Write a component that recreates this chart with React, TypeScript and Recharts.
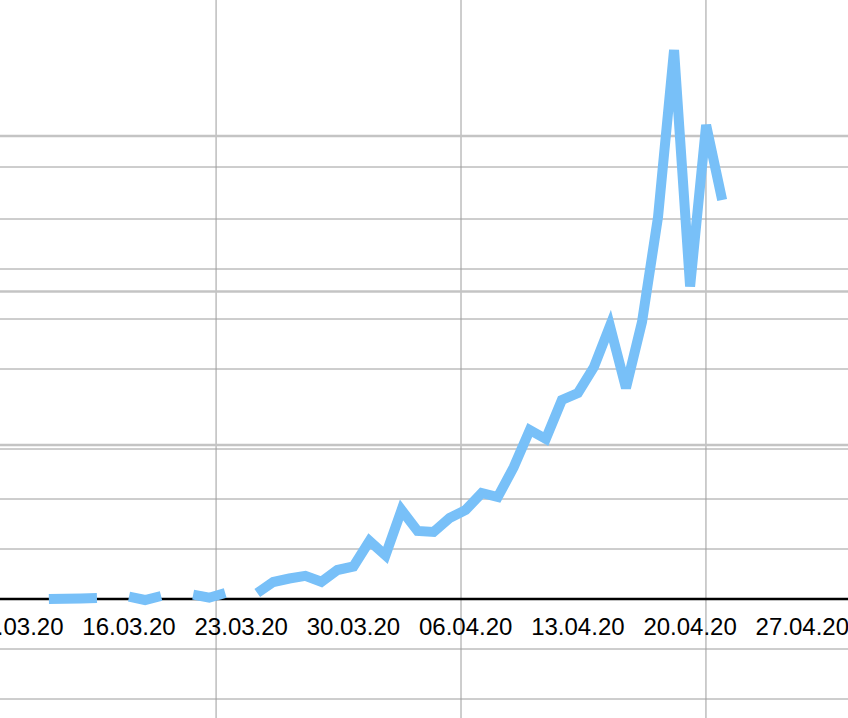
import React from 'react';
import { ComposedChart, Line, XAxis, YAxis, CartesianGrid, ReferenceLine } from 'recharts';

// daily values, 09.03.20 is day 0; null = no report that day
const dates = [
  '11.03', '12.03', '13.03', '14.03', '15.03', '16.03', '17.03', '18.03', '19.03', '20.03',
  '21.03', '22.03', '23.03', '24.03', '25.03', '26.03', '27.03', '28.03', '29.03', '30.03',
  '31.03', '01.04', '02.04', '03.04', '04.04', '05.04', '06.04', '07.04', '08.04', '09.04',
  '10.04', '11.04', '12.04', '13.04', '14.04', '15.04', '16.04', '17.04', '18.04', '19.04',
  '20.04', '21.04', '22.04',
];
const values = [
  0, 3, 6, 10, null, 23, -10, 30, null, 43,
  13, 60, null, 60, 170, 205, 231, 172, 290, 325,
  580, 436, 890, 680, 670, 810, 890, 1060, 1020, 1320,
  1690, 1600, 1990, 2060, 2320, 2730, 2110, 2770, 3820, 5490,
  3125, 4740, 3990,
];

const tickDates = ['09.03.20', '16.03.20', '23.03.20', '30.03.20', '06.04.20', '13.04.20', '20.04.20', '27.04.20'];

// grid lines (x in days from 09.03, y in value units)
const verticalGrid = [12.43, 27.71, 42.99];
const minorGrid = [-1000, -500, 500, 1000, 1500, 2300, 2800, 3300, 3800, 4320];
const majorGrid = [1540, 3075, 4630];

const W = 848;
const H = 718;
const X_MIN = -1.048;
const X_MAX = 51.85;
const Y_MIN = -1190;
const Y_MAX = 5990;

const START = Date.UTC(2020, 2, 9);
const dayOf = (ddmm: string) => {
  const [d, m] = ddmm.split('.').map(Number);
  return Math.round((Date.UTC(2020, m - 1, d) - START) / 86400000);
};

const data = dates.map((d, i) => ({ day: dayOf(d), value: values[i] }));
const ticks = tickDates.map((t) => dayOf(t.slice(0, 5)));
const tickLabel = (day: number) => tickDates[ticks.indexOf(day)] ?? '';

const zeroY = (H * Y_MAX) / (Y_MAX - Y_MIN);

const DateTick = (props: any) => {
  const { x, payload } = props;
  return (
    <text
      x={x}
      y={zeroY + 36}
      textAnchor="middle"
      fill="#000"
      fontSize={24}
      fontFamily="'Liberation Sans', Arial, sans-serif"
    >
      {tickLabel(payload.value)}
    </text>
  );
};

export default function App() {
  return (
    <div style={{ position: 'absolute', left: 0, top: 0, width: W, height: H, overflow: 'hidden', background: '#fff' }}>
      {/* 1px extra height holds the x axis so the plot fills the whole frame */}
      <ComposedChart width={W} height={H + 1} data={data} margin={{ top: 0, right: 0, bottom: 0, left: 0 }}>
        <CartesianGrid
          horizontal={true}
          vertical={true}
          horizontalValues={minorGrid}
          verticalValues={verticalGrid}
          stroke="#9c9c9c"
          strokeWidth={1}
        />
        <CartesianGrid
          horizontal={true}
          vertical={false}
          horizontalValues={majorGrid}
          stroke="#c4c4c4"
          strokeWidth={2.5}
        />
        <XAxis
          dataKey="day"
          type="number"
          domain={[X_MIN, X_MAX]}
          allowDataOverflow
          ticks={ticks}
          interval={0}
          height={1}
          axisLine={false}
          tickLine={false}
          tick={DateTick}
        />
        <YAxis hide type="number" domain={[Y_MIN, Y_MAX]} allowDataOverflow width={0} />
        <ReferenceLine y={0} stroke="#000" strokeWidth={2.5} />
        <Line
          type="linear"
          dataKey="value"
          stroke="#78c0f8"
          strokeWidth={10}
          dot={false}
          activeDot={false}
          connectNulls={false}
          isAnimationActive={false}
        />
      </ComposedChart>
    </div>
  );
}
